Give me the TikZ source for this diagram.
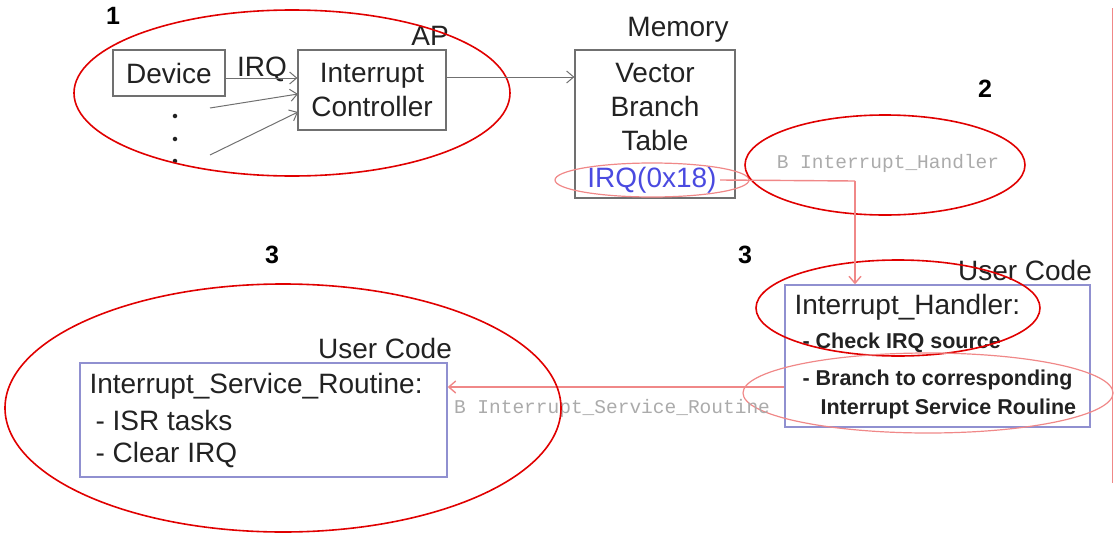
\documentclass[tikz,border=0pt]{standalone}
\usepackage{fontspec}
\setmainfont{Liberation Sans}
\newfontfamily\monof{Liberation Mono}
\usetikzlibrary{arrows.meta}
\definecolor{txt}{HTML}{222222}
\definecolor{boxg}{HTML}{707070}
\definecolor{boxb}{HTML}{9090D0}
\definecolor{hred}{HTML}{E00000}
\definecolor{lred}{HTML}{F08888}
\definecolor{irqb}{HTML}{4A4AE0}
\definecolor{monog}{HTML}{ABABAB}
\tikzset{
  big/.style={font=\fontsize{28}{34}\selectfont, text=txt},
  small/.style={font=\fontsize{21.5}{28}\selectfont\bfseries, text=txt},
  num/.style={font=\fontsize{25}{28}\selectfont\bfseries, text=black},
  mono/.style={font=\monof\fontsize{19.5}{22}\selectfont, text=monog},
  gbox/.style={draw=boxg, line width=1.2pt, inner sep=0pt},
  bbox/.style={draw=boxb, line width=1.4pt, inner sep=0pt},
  garr/.style={draw=boxg, line width=1pt, -{Straight Barb[length=7pt,width=12pt]}},
  rarr/.style={draw=lred, line width=1.4pt, -{Straight Barb[length=7pt,width=12pt]}},
  hell/.style={draw=hred, line width=1.6pt},
  lell/.style={draw=lred, line width=1.2pt},
}
\begin{document}
\begin{tikzpicture}[x=1pt,y=-1pt]
\useasboundingbox (0,0) rectangle (1114,533);
% right edge line
\draw[lred, line width=0.8pt] (1112,8) -- (1112,483);

% ---- region 1
\node[num] (n1) at (113,16) {1};
\node[big] (aplbl) at (430,36) {AP};
\node[gbox, minimum width=112pt, minimum height=46pt, big] (dev) at (169,73) {Device};
\node[gbox, minimum width=148pt, minimum height=80pt, big, align=center] (ctrl) at (372,90) {Interrupt\\Controller};
\node[big, anchor=base] (irqlbl) at (262,76) {IRQ};
\node[circle, fill=txt, inner sep=1.6pt] (d1) at (175,116) {};
\node[circle, fill=txt, inner sep=1.6pt] (d2) at (175,139) {};
\node[circle, fill=txt, inner sep=1.6pt] (d3) at (175,161) {};
\coordinate (s1) at (210,108);
\coordinate (s2) at (210,155);
\coordinate (t1) at (298,94);
\coordinate (t2) at (298,112);
\draw[garr] (dev.east |- 0,78) -- (ctrl.west |- 0,78);
\draw[garr] (s1) -- (t1);
\draw[garr] (s2) -- (t2);
\draw[hell] (292,93) ellipse [x radius=218, y radius=83];

% ---- memory
\node[big] (memlbl) at (678,30) {Memory};
\node[gbox, minimum width=160pt, minimum height=148pt] (vbt) at (655,124) {};
\node[big, align=center] (vbttxt) at (655,107) {Vector\\Branch\\Table};
\node[big, text=irqb] (irq) at (652,180) {IRQ(0x18)};
\draw[garr] (ctrl.east |- 0,77) -- (vbt.west |- 0,77);
\draw[lell] (652,180) ellipse [x radius=97, y radius=17];

% ---- region 2
\node[num] (n2) at (985,89) {2};
\node[mono] (bih) at (888,163) {B Interrupt\_Handler};
\draw[hell] (885,165) ellipse [x radius=140, y radius=50];

% ---- handler box
\node[num] (n3b) at (745,255) {3};
\node[big] (uc1) at (1025,270) {User Code};
\node[bbox, minimum width=305pt, minimum height=142pt] (hb) at (937.5,356) {};
\node[big, anchor=west] (hbt) at (791,307) {Interrupt\_Handler:};
\node[small, anchor=west] (hbc) at (799,343) {- Check IRQ source};
\node[small, anchor=west] (hbb) at (799,380) {- Branch to corresponding};
\node[small, anchor=west] (hbi) at (817,409) {Interrupt Service Rouline};
\draw[hell] (898,308) ellipse [x radius=142, y radius=48];
\draw[lell] (928,393) ellipse [x radius=185, y radius=40];

\coordinate (bend) at (855,181);
\draw[lred, line width=1.4pt] (irq.east) -- (bend);
\draw[rarr] (bend) -- (bend |- hb.north);

% ---- ISR box
\node[num] (n3a) at (272,255) {3};
\node[big] (uc2) at (385,348) {User Code};
\node[bbox, minimum width=367pt, minimum height=114pt] (isr) at (263.5,420) {};
\node[big, anchor=west] (isrt) at (86,386) {Interrupt\_Service\_Routine:};
\node[big, anchor=west] (isr1) at (92,420) {- ISR tasks};
\node[big, anchor=west] (isr2) at (92,455) {- Clear IRQ};
\coordinate (hline) at (600,387);
\draw[rarr] (hb.west |- hline) -- (isr.east |- hline);
\node[mono] (bisr) at (612,408) {B Interrupt\_Service\_Routine};
\draw[hell] (283,408) ellipse [x radius=278, y radius=124];
\end{tikzpicture}
\end{document}
